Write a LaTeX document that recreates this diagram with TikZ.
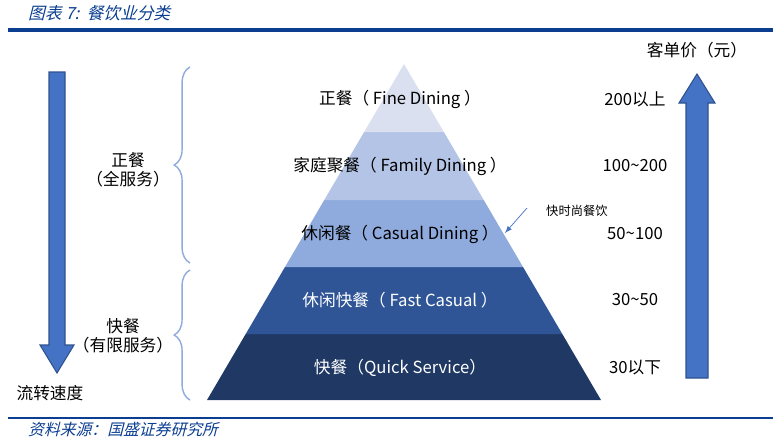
\documentclass[tikz,border=0pt]{standalone}
\usepackage{fontspec}
\setmainfont{Noto Sans CJK SC}
\newfontfamily\slfont[FakeSlant=0.25]{Noto Sans CJK SC}
\usetikzlibrary{decorations.pathreplacing}
\definecolor{hdr}{HTML}{0B3E91}
\definecolor{arr}{HTML}{4472C4}
\definecolor{arrd}{HTML}{2F528F}
\definecolor{lv1}{HTML}{DAE0F0}
\definecolor{lv2}{HTML}{B4C4E6}
\definecolor{lv3}{HTML}{8FAADC}
\definecolor{lv4}{HTML}{2F5597}
\definecolor{lv5}{HTML}{1F3864}
\definecolor{brc}{HTML}{8FAADC}
\begin{document}
\begin{tikzpicture}[x=0.02cm,y=-0.02cm,
  lbl/.style={font=\fontsize{9.5}{11}\selectfont,text=black,align=center},
  wl/.style={font=\fontsize{9.5}{11}\selectfont,text=white},
  brace/.style={draw=brc,thick,decorate,decoration={brace,amplitude=9pt}}]
\useasboundingbox (0,0) rectangle (781,441);
\node[anchor=west,text=hdr,font=\slfont\fontsize{9.5}{10}\selectfont] (title) at (22,13) {图表 7:\ \ 餐饮业分类};
\draw[hdr,line width=1.8pt] (8,30) -- (773,30);
\draw[hdr,line width=1.2pt] (8,418) -- (773,418);
\node[anchor=west,text=hdr,font=\slfont\fontsize{9}{10}\selectfont] (src) at (22,429) {资料来源：国盛证券研究所};
% pyramid
\fill[lv5] (404-197,400) -- (404+197,400) -- ({404+(334-64)/336*197},334) -- ({404-(334-64)/336*197},334) -- cycle;
\fill[lv4] ({404-(334-64)/336*197},334) -- ({404+(334-64)/336*197},334) -- ({404+(267-64)/336*197},267) -- ({404-(267-64)/336*197},267) -- cycle;
\fill[lv3] ({404-(267-64)/336*197},267) -- ({404+(267-64)/336*197},267) -- ({404+(200-64)/336*197},200) -- ({404-(200-64)/336*197},200) -- cycle;
\fill[lv2] ({404-(200-64)/336*197},200) -- ({404+(200-64)/336*197},200) -- ({404+(132-64)/336*197},132) -- ({404-(132-64)/336*197},132) -- cycle;
\fill[lv1] ({404-(132-64)/336*197},132) -- ({404+(132-64)/336*197},132) -- (404,64) -- cycle;
\node[lbl] (p1) at (400,99) {正餐（ Fine Dining ）};
\node[lbl] (p2) at (400,166) {家庭聚餐（ Family Dining ）};
\node[lbl] (p3) at (400,234) {休闲餐（ Casual Dining ）};
\node[wl] (p4) at (400,300) {休闲快餐（ Fast Casual ）};
\node[wl] (p5) at (400,368) {快餐（Quick Service）};
% prices
\node[lbl] (c1) at (635,99) {200以上};
\node[lbl] (c2) at (635,166) {100\textasciitilde200};
\node[lbl] (c3) at (635,234) {50\textasciitilde100};
\node[lbl] (c4) at (635,300) {30\textasciitilde50};
\node[lbl] (c5) at (635,368) {30以下};
\node[lbl] (kd) at (697,50) {客单价（元）};
% up arrow
\draw[arrd,fill=arr,line width=0.6pt] (686,378) -- (686,103) -- (679,103) -- (697,74) -- (715,103) -- (708,103) -- (708,378) -- cycle;
% down arrow
\draw[arrd,fill=arr,line width=0.6pt] (49,72) -- (49,345) -- (40,345) -- (57,373) -- (74,345) -- (65,345) -- (65,72) -- cycle;
\node[lbl] (ls) at (50,393) {流转速度};
% braces
\draw[brace] (190,263) -- (190,67);
\draw[brace] (190,400) -- (190,270);
\node[lbl] (b1) at (128,170) {正餐\\（全服务）};
\node[lbl] (b2) at (123,336) {快餐\\（有限服务）};
% annotation
\node[anchor=west,font=\fontsize{7}{8}\selectfont] (ann) at (540,211) {快时尚餐饮};
\coordinate (start) at (527,208);
\coordinate (tip) at (505,233);
\draw[arr,-latex] (start) -- (tip);
\end{tikzpicture}
\end{document}
